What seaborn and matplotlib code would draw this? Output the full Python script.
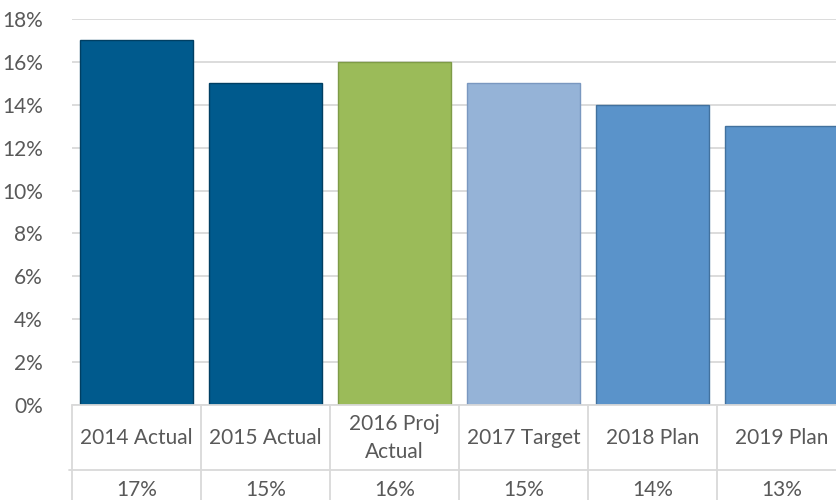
import matplotlib
matplotlib.use("Agg")
import matplotlib.pyplot as plt
import matplotlib.transforms as mtransforms
import seaborn as sns
import pandas as pd

categories = ["2014 Actual", "2015 Actual", "2016 Proj\nActual", "2017 Target", "2018 Plan", "2019 Plan"]
values = [17, 15, 16, 15, 14, 13]
value_labels = ["17%", "15%", "16%", "15%", "14%", "13%"]
bar_colors = ["#005A8D", "#005A8D", "#9BBB59", "#95B3D7", "#5A93CA", "#5A93CA"]
edge_colors = ["#003F63", "#003F63", "#7E9B47", "#7A98C0", "#42719E", "#42719E"]
y_ticks = [0, 2, 4, 6, 8, 10, 12, 14, 16, 18]

sns.set_style("white")
plt.rcParams['font.family'] = ['Lato', 'DejaVu Sans']
text_color = "#595959"
line_color = "#D9D9D9"
fs = 15

W, H = 837, 500
fig = plt.figure(figsize=(W / 100, H / 100), dpi=100)
left, right, top, bottom = 72, 837, 19, 405
ax = fig.add_axes([left / W, 1 - bottom / H, (right - left) / W, (bottom - top) / H])

df = pd.DataFrame({"cat": categories, "val": values})
sns.barplot(data=df, x="cat", y="val", hue="cat", palette=bar_colors, saturation=1,
            width=0.87, legend=False, ax=ax, zorder=3)
for patch, ec in zip(ax.patches, edge_colors):
    patch.set_edgecolor(ec)
    patch.set_linewidth(1.0)

cell = 129.0
ax.set_xlim(-0.5, (right - left) / cell - 0.5)
ax.set_ylim(0, 18)
ax.set_yticks(y_ticks)
ax.set_yticklabels([f"{t}%" for t in y_ticks])
ax.yaxis.grid(True, color=line_color, linewidth=1.3, zorder=0)
ax.set_axisbelow(True)
ax.tick_params(axis="y", length=0, pad=21, labelsize=fs, labelcolor=text_color)
ax.set_xticks([])
ax.set_xlabel("")
ax.set_ylabel("")
for s in ax.spines.values():
    s.set_visible(False)

# data table below the plot
trans = mtransforms.blended_transform_factory(ax.transData, ax.transAxes)
px = 1.0 / (bottom - top)  # one pixel in axes fraction (vertical)
row1_bottom = -(470 - bottom) * px
table_bottom = -(H - bottom + 5) * px

ax.plot([-0.5, 5.5], [0, 0], transform=trans, color=line_color, lw=1.3, clip_on=False, zorder=4)
ax.plot([-0.5 - 3 / cell, 5.5], [row1_bottom, row1_bottom], transform=trans,
        color=line_color, lw=1.3, clip_on=False)
for i in range(len(categories) + 1):
    xb = i - 0.5
    ax.plot([xb, xb], [0, table_bottom], transform=trans, color=line_color,
            lw=1.3, clip_on=False)

for i, (c, v) in enumerate(zip(categories, value_labels)):
    ax.text(i, -(438 - bottom) * px, c, transform=trans, ha="center", va="center",
            fontsize=fs, color=text_color, linespacing=1.55)
    ax.text(i, -(490 - bottom) * px, v, transform=trans, ha="center", va="center",
            fontsize=fs, color=text_color)

fig.savefig("out.png", dpi=100)
